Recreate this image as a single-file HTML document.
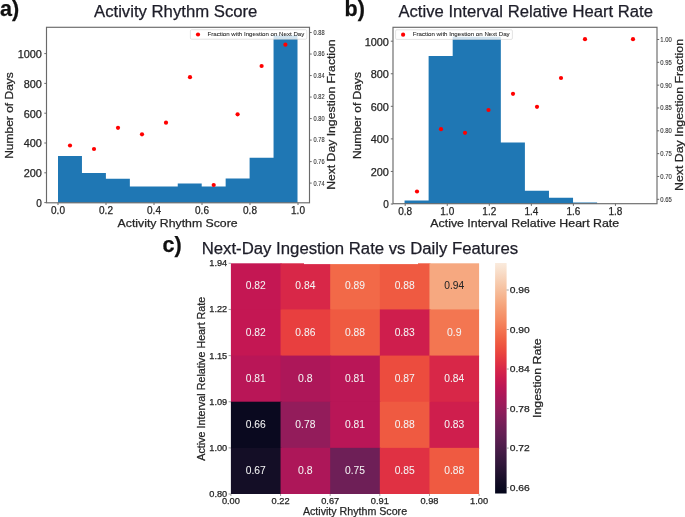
<!DOCTYPE html>
<html><head><meta charset="utf-8"><style>
html,body{margin:0;padding:0;background:#fff;width:685px;height:517px;overflow:hidden}
svg{display:block;font-family:"Liberation Sans", sans-serif;filter:blur(0.3px)}
</style></head><body>
<svg width="685" height="517" viewBox="0 0 685 517">
<rect x="0" y="0" width="685" height="517" fill="#fff"/>
<path d="M58.00,202.80 L58.00,156.00 L81.95,156.00 L81.95,173.10 L105.90,173.10 L105.90,178.70 L129.85,178.70 L129.85,186.40 L153.80,186.40 L153.80,186.40 L177.75,186.40 L177.75,183.40 L201.70,183.40 L201.70,186.60 L225.65,186.60 L225.65,178.50 L249.60,178.50 L249.60,157.80 L273.55,157.80 L273.55,35.40 L297.50,35.40 L297.50,202.80 Z" fill="#1f77b4"/>
<circle cx="70.00" cy="145.50" r="2.1" fill="#ff0000"/>
<circle cx="94.00" cy="149.00" r="2.1" fill="#ff0000"/>
<circle cx="118.00" cy="127.80" r="2.1" fill="#ff0000"/>
<circle cx="142.00" cy="134.30" r="2.1" fill="#ff0000"/>
<circle cx="166.00" cy="122.70" r="2.1" fill="#ff0000"/>
<circle cx="190.00" cy="77.20" r="2.1" fill="#ff0000"/>
<circle cx="213.70" cy="185.00" r="2.1" fill="#ff0000"/>
<circle cx="237.60" cy="114.30" r="2.1" fill="#ff0000"/>
<circle cx="261.60" cy="66.00" r="2.1" fill="#ff0000"/>
<circle cx="285.40" cy="44.70" r="2.1" fill="#ff0000"/>
<rect x="46.50" y="27.30" width="263.00" height="175.50" fill="none" stroke="#6a6a6a" stroke-width="1.15"/>
<line x1="44.30" y1="202.60" x2="46.50" y2="202.60" stroke="#6a6a6a" stroke-width="1"/>
<text x="41.90" y="206.90" font-size="10" text-anchor="end" fill="#262626" stroke="#262626" stroke-width="0.25" textLength="5.56" lengthAdjust="spacingAndGlyphs">0</text>
<line x1="44.30" y1="172.80" x2="46.50" y2="172.80" stroke="#6a6a6a" stroke-width="1"/>
<text x="41.90" y="177.10" font-size="10" text-anchor="end" fill="#262626" stroke="#262626" stroke-width="0.25" textLength="18.19" lengthAdjust="spacingAndGlyphs">200</text>
<line x1="44.30" y1="143.00" x2="46.50" y2="143.00" stroke="#6a6a6a" stroke-width="1"/>
<text x="41.90" y="147.30" font-size="10" text-anchor="end" fill="#262626" stroke="#262626" stroke-width="0.25" textLength="18.19" lengthAdjust="spacingAndGlyphs">400</text>
<line x1="44.30" y1="113.20" x2="46.50" y2="113.20" stroke="#6a6a6a" stroke-width="1"/>
<text x="41.90" y="117.50" font-size="10" text-anchor="end" fill="#262626" stroke="#262626" stroke-width="0.25" textLength="18.19" lengthAdjust="spacingAndGlyphs">600</text>
<line x1="44.30" y1="83.40" x2="46.50" y2="83.40" stroke="#6a6a6a" stroke-width="1"/>
<text x="41.90" y="87.70" font-size="10" text-anchor="end" fill="#262626" stroke="#262626" stroke-width="0.25" textLength="18.19" lengthAdjust="spacingAndGlyphs">800</text>
<line x1="44.30" y1="53.60" x2="46.50" y2="53.60" stroke="#6a6a6a" stroke-width="1"/>
<text x="41.90" y="57.90" font-size="10" text-anchor="end" fill="#262626" stroke="#262626" stroke-width="0.25" textLength="24.25" lengthAdjust="spacingAndGlyphs">1000</text>
<line x1="58.00" y1="202.80" x2="58.00" y2="205.00" stroke="#6a6a6a" stroke-width="1"/>
<text x="58.00" y="214.30" font-size="10" text-anchor="middle" fill="#262626" stroke="#262626" stroke-width="0.25">0.0</text>
<line x1="106.00" y1="202.80" x2="106.00" y2="205.00" stroke="#6a6a6a" stroke-width="1"/>
<text x="106.00" y="214.30" font-size="10" text-anchor="middle" fill="#262626" stroke="#262626" stroke-width="0.25">0.2</text>
<line x1="154.00" y1="202.80" x2="154.00" y2="205.00" stroke="#6a6a6a" stroke-width="1"/>
<text x="154.00" y="214.30" font-size="10" text-anchor="middle" fill="#262626" stroke="#262626" stroke-width="0.25">0.4</text>
<line x1="202.00" y1="202.80" x2="202.00" y2="205.00" stroke="#6a6a6a" stroke-width="1"/>
<text x="202.00" y="214.30" font-size="10" text-anchor="middle" fill="#262626" stroke="#262626" stroke-width="0.25">0.6</text>
<line x1="250.00" y1="202.80" x2="250.00" y2="205.00" stroke="#6a6a6a" stroke-width="1"/>
<text x="250.00" y="214.30" font-size="10" text-anchor="middle" fill="#262626" stroke="#262626" stroke-width="0.25">0.8</text>
<line x1="298.00" y1="202.80" x2="298.00" y2="205.00" stroke="#6a6a6a" stroke-width="1"/>
<text x="298.00" y="214.30" font-size="10" text-anchor="middle" fill="#262626" stroke="#262626" stroke-width="0.25">1.0</text>
<line x1="309.50" y1="183.10" x2="311.70" y2="183.10" stroke="#6a6a6a" stroke-width="1"/>
<text x="313.60" y="185.50" font-size="6.6" text-anchor="start" fill="#333" stroke="#333" stroke-width="0.1" textLength="11.00" lengthAdjust="spacingAndGlyphs">0.74</text>
<line x1="309.50" y1="161.59" x2="311.70" y2="161.59" stroke="#6a6a6a" stroke-width="1"/>
<text x="313.60" y="163.99" font-size="6.6" text-anchor="start" fill="#333" stroke="#333" stroke-width="0.1" textLength="11.00" lengthAdjust="spacingAndGlyphs">0.76</text>
<line x1="309.50" y1="140.08" x2="311.70" y2="140.08" stroke="#6a6a6a" stroke-width="1"/>
<text x="313.60" y="142.48" font-size="6.6" text-anchor="start" fill="#333" stroke="#333" stroke-width="0.1" textLength="11.00" lengthAdjust="spacingAndGlyphs">0.78</text>
<line x1="309.50" y1="118.57" x2="311.70" y2="118.57" stroke="#6a6a6a" stroke-width="1"/>
<text x="313.60" y="120.97" font-size="6.6" text-anchor="start" fill="#333" stroke="#333" stroke-width="0.1" textLength="11.00" lengthAdjust="spacingAndGlyphs">0.80</text>
<line x1="309.50" y1="97.06" x2="311.70" y2="97.06" stroke="#6a6a6a" stroke-width="1"/>
<text x="313.60" y="99.46" font-size="6.6" text-anchor="start" fill="#333" stroke="#333" stroke-width="0.1" textLength="11.00" lengthAdjust="spacingAndGlyphs">0.82</text>
<line x1="309.50" y1="75.55" x2="311.70" y2="75.55" stroke="#6a6a6a" stroke-width="1"/>
<text x="313.60" y="77.95" font-size="6.6" text-anchor="start" fill="#333" stroke="#333" stroke-width="0.1" textLength="11.00" lengthAdjust="spacingAndGlyphs">0.84</text>
<line x1="309.50" y1="54.04" x2="311.70" y2="54.04" stroke="#6a6a6a" stroke-width="1"/>
<text x="313.60" y="56.44" font-size="6.6" text-anchor="start" fill="#333" stroke="#333" stroke-width="0.1" textLength="11.00" lengthAdjust="spacingAndGlyphs">0.86</text>
<line x1="309.50" y1="32.53" x2="311.70" y2="32.53" stroke="#6a6a6a" stroke-width="1"/>
<text x="313.60" y="34.93" font-size="6.6" text-anchor="start" fill="#333" stroke="#333" stroke-width="0.1" textLength="11.00" lengthAdjust="spacingAndGlyphs">0.88</text>
<rect x="190.4" y="29.7" width="116.4" height="9.5" rx="1.2" fill="#ffffff" fill-opacity="0.8" stroke="#d0d0d0" stroke-width="0.6"/>
<circle cx="198.00" cy="34.50" r="2.1" fill="#ff0000"/>
<text x="207.50" y="35.70" font-size="5.9" text-anchor="start" fill="#2a2a2a" stroke="#2a2a2a" stroke-width="0.08" textLength="96.80" lengthAdjust="spacingAndGlyphs">Fraction with Ingestion on Next Day</text>
<text x="177.60" y="226.60" font-size="11" text-anchor="middle" fill="#262626" stroke="#262626" stroke-width="0.25" textLength="120.00" lengthAdjust="spacingAndGlyphs">Activity Rhythm Score</text>
<text transform="translate(13.10,115.50) rotate(-90)" x="0" y="0" font-size="11" text-anchor="middle" fill="#262626" stroke="#262626" stroke-width="0.25" textLength="86.70" lengthAdjust="spacingAndGlyphs">Number of Days</text>
<text transform="translate(335.00,114.60) rotate(-90)" x="0" y="0" font-size="11" text-anchor="middle" fill="#262626" stroke="#262626" stroke-width="0.25" textLength="150.50" lengthAdjust="spacingAndGlyphs">Next Day Ingestion Fraction</text>
<text x="94.00" y="16.80" font-size="16" text-anchor="start" fill="#1d1d28" stroke="#1d1d28" stroke-width="0.25" textLength="163.40" lengthAdjust="spacingAndGlyphs">Activity Rhythm Score</text>
<text x="0.00" y="16.00" font-size="21.5" text-anchor="start" fill="#111" font-weight="bold" stroke="#111" stroke-width="0.25">a)</text>
<path d="M404.55,203.70 L404.55,200.50 L428.62,200.50 L428.62,56.10 L452.69,56.10 L452.69,36.70 L476.76,36.70 L476.76,36.70 L500.83,36.70 L500.83,142.50 L524.90,142.50 L524.90,190.70 L548.97,190.70 L548.97,197.80 L573.04,197.80 L573.04,202.60 L597.11,202.60 L597.11,203.70 L621.18,203.70 L621.18,203.70 L645.25,203.70 L645.25,203.70 Z" fill="#1f77b4"/>
<circle cx="417.00" cy="191.50" r="2.1" fill="#ff0000"/>
<circle cx="441.00" cy="129.20" r="2.1" fill="#ff0000"/>
<circle cx="465.00" cy="132.80" r="2.1" fill="#ff0000"/>
<circle cx="488.50" cy="110.00" r="2.1" fill="#ff0000"/>
<circle cx="513.00" cy="93.80" r="2.1" fill="#ff0000"/>
<circle cx="537.00" cy="106.80" r="2.1" fill="#ff0000"/>
<circle cx="561.00" cy="78.00" r="2.1" fill="#ff0000"/>
<circle cx="585.00" cy="39.20" r="2.1" fill="#ff0000"/>
<circle cx="633.00" cy="39.20" r="2.1" fill="#ff0000"/>
<rect x="393.00" y="27.30" width="264.00" height="176.40" fill="none" stroke="#6a6a6a" stroke-width="1.15"/>
<line x1="390.80" y1="204.00" x2="393.00" y2="204.00" stroke="#6a6a6a" stroke-width="1"/>
<text x="388.90" y="208.30" font-size="10" text-anchor="end" fill="#262626" stroke="#262626" stroke-width="0.25" textLength="5.56" lengthAdjust="spacingAndGlyphs">0</text>
<line x1="390.80" y1="171.44" x2="393.00" y2="171.44" stroke="#6a6a6a" stroke-width="1"/>
<text x="388.90" y="175.74" font-size="10" text-anchor="end" fill="#262626" stroke="#262626" stroke-width="0.25" textLength="18.19" lengthAdjust="spacingAndGlyphs">200</text>
<line x1="390.80" y1="138.88" x2="393.00" y2="138.88" stroke="#6a6a6a" stroke-width="1"/>
<text x="388.90" y="143.18" font-size="10" text-anchor="end" fill="#262626" stroke="#262626" stroke-width="0.25" textLength="18.19" lengthAdjust="spacingAndGlyphs">400</text>
<line x1="390.80" y1="106.32" x2="393.00" y2="106.32" stroke="#6a6a6a" stroke-width="1"/>
<text x="388.90" y="110.62" font-size="10" text-anchor="end" fill="#262626" stroke="#262626" stroke-width="0.25" textLength="18.19" lengthAdjust="spacingAndGlyphs">600</text>
<line x1="390.80" y1="73.76" x2="393.00" y2="73.76" stroke="#6a6a6a" stroke-width="1"/>
<text x="388.90" y="78.06" font-size="10" text-anchor="end" fill="#262626" stroke="#262626" stroke-width="0.25" textLength="18.19" lengthAdjust="spacingAndGlyphs">800</text>
<line x1="390.80" y1="41.20" x2="393.00" y2="41.20" stroke="#6a6a6a" stroke-width="1"/>
<text x="388.90" y="45.50" font-size="10" text-anchor="end" fill="#262626" stroke="#262626" stroke-width="0.25" textLength="24.25" lengthAdjust="spacingAndGlyphs">1000</text>
<line x1="405.20" y1="203.70" x2="405.20" y2="205.90" stroke="#6a6a6a" stroke-width="1"/>
<text x="405.20" y="214.60" font-size="10" text-anchor="middle" fill="#262626" stroke="#262626" stroke-width="0.25">0.8</text>
<line x1="447.25" y1="203.70" x2="447.25" y2="205.90" stroke="#6a6a6a" stroke-width="1"/>
<text x="447.25" y="214.60" font-size="10" text-anchor="middle" fill="#262626" stroke="#262626" stroke-width="0.25">1.0</text>
<line x1="489.30" y1="203.70" x2="489.30" y2="205.90" stroke="#6a6a6a" stroke-width="1"/>
<text x="489.30" y="214.60" font-size="10" text-anchor="middle" fill="#262626" stroke="#262626" stroke-width="0.25">1.2</text>
<line x1="531.35" y1="203.70" x2="531.35" y2="205.90" stroke="#6a6a6a" stroke-width="1"/>
<text x="531.35" y="214.60" font-size="10" text-anchor="middle" fill="#262626" stroke="#262626" stroke-width="0.25">1.4</text>
<line x1="573.40" y1="203.70" x2="573.40" y2="205.90" stroke="#6a6a6a" stroke-width="1"/>
<text x="573.40" y="214.60" font-size="10" text-anchor="middle" fill="#262626" stroke="#262626" stroke-width="0.25">1.6</text>
<line x1="615.45" y1="203.70" x2="615.45" y2="205.90" stroke="#6a6a6a" stroke-width="1"/>
<text x="615.45" y="214.60" font-size="10" text-anchor="middle" fill="#262626" stroke="#262626" stroke-width="0.25">1.8</text>
<line x1="657.00" y1="199.30" x2="659.20" y2="199.30" stroke="#6a6a6a" stroke-width="1"/>
<text x="660.30" y="201.70" font-size="6.6" text-anchor="start" fill="#333" stroke="#333" stroke-width="0.1" textLength="11.50" lengthAdjust="spacingAndGlyphs">0.65</text>
<line x1="657.00" y1="176.47" x2="659.20" y2="176.47" stroke="#6a6a6a" stroke-width="1"/>
<text x="660.30" y="178.87" font-size="6.6" text-anchor="start" fill="#333" stroke="#333" stroke-width="0.1" textLength="11.50" lengthAdjust="spacingAndGlyphs">0.70</text>
<line x1="657.00" y1="153.64" x2="659.20" y2="153.64" stroke="#6a6a6a" stroke-width="1"/>
<text x="660.30" y="156.04" font-size="6.6" text-anchor="start" fill="#333" stroke="#333" stroke-width="0.1" textLength="11.50" lengthAdjust="spacingAndGlyphs">0.75</text>
<line x1="657.00" y1="130.81" x2="659.20" y2="130.81" stroke="#6a6a6a" stroke-width="1"/>
<text x="660.30" y="133.21" font-size="6.6" text-anchor="start" fill="#333" stroke="#333" stroke-width="0.1" textLength="11.50" lengthAdjust="spacingAndGlyphs">0.80</text>
<line x1="657.00" y1="107.98" x2="659.20" y2="107.98" stroke="#6a6a6a" stroke-width="1"/>
<text x="660.30" y="110.38" font-size="6.6" text-anchor="start" fill="#333" stroke="#333" stroke-width="0.1" textLength="11.50" lengthAdjust="spacingAndGlyphs">0.85</text>
<line x1="657.00" y1="85.15" x2="659.20" y2="85.15" stroke="#6a6a6a" stroke-width="1"/>
<text x="660.30" y="87.55" font-size="6.6" text-anchor="start" fill="#333" stroke="#333" stroke-width="0.1" textLength="11.50" lengthAdjust="spacingAndGlyphs">0.90</text>
<line x1="657.00" y1="62.32" x2="659.20" y2="62.32" stroke="#6a6a6a" stroke-width="1"/>
<text x="660.30" y="64.72" font-size="6.6" text-anchor="start" fill="#333" stroke="#333" stroke-width="0.1" textLength="11.50" lengthAdjust="spacingAndGlyphs">0.95</text>
<line x1="657.00" y1="39.49" x2="659.20" y2="39.49" stroke="#6a6a6a" stroke-width="1"/>
<text x="660.30" y="41.89" font-size="6.6" text-anchor="start" fill="#333" stroke="#333" stroke-width="0.1" textLength="11.50" lengthAdjust="spacingAndGlyphs">1.00</text>
<rect x="395.6" y="29.8" width="116.8" height="9.6" rx="1.2" fill="#ffffff" fill-opacity="0.8" stroke="#d0d0d0" stroke-width="0.6"/>
<circle cx="403.10" cy="34.70" r="2.1" fill="#ff0000"/>
<text x="412.70" y="35.70" font-size="5.9" text-anchor="start" fill="#2a2a2a" stroke="#2a2a2a" stroke-width="0.08" textLength="97.00" lengthAdjust="spacingAndGlyphs">Fraction with Ingestion on Next Day</text>
<text x="524.70" y="227.40" font-size="11" text-anchor="middle" fill="#262626" stroke="#262626" stroke-width="0.25" textLength="188.80" lengthAdjust="spacingAndGlyphs">Active Interval Relative Heart Rate</text>
<text transform="translate(360.60,115.50) rotate(-90)" x="0" y="0" font-size="11" text-anchor="middle" fill="#262626" stroke="#262626" stroke-width="0.25" textLength="87.20" lengthAdjust="spacingAndGlyphs">Number of Days</text>
<text transform="translate(683.00,115.00) rotate(-90)" x="0" y="0" font-size="11" text-anchor="middle" fill="#262626" stroke="#262626" stroke-width="0.25" textLength="152.00" lengthAdjust="spacingAndGlyphs">Next Day Ingestion Fraction</text>
<text x="398.40" y="17.20" font-size="16" text-anchor="start" fill="#1d1d28" stroke="#1d1d28" stroke-width="0.25" textLength="254.60" lengthAdjust="spacingAndGlyphs">Active Interval Relative Heart Rate</text>
<text x="344.50" y="15.80" font-size="21.5" text-anchor="start" fill="#111" font-weight="bold" stroke="#111" stroke-width="0.25">b)</text>
<rect x="230.90" y="263.30" width="50.64" height="47.14" fill="#c41753"/>
<text x="255.72" y="289.42" font-size="10.4" text-anchor="middle" fill="#f4f4f4" stroke="#f4f4f4" stroke-width="0.04" textLength="20.00" lengthAdjust="spacingAndGlyphs">0.82</text>
<rect x="280.54" y="263.30" width="50.64" height="47.14" fill="#d82748"/>
<text x="305.36" y="289.42" font-size="10.4" text-anchor="middle" fill="#f4f4f4" stroke="#f4f4f4" stroke-width="0.04" textLength="20.00" lengthAdjust="spacingAndGlyphs">0.84</text>
<rect x="330.18" y="263.30" width="50.64" height="47.14" fill="#f26948"/>
<text x="355.00" y="289.42" font-size="10.4" text-anchor="middle" fill="#f4f4f4" stroke="#f4f4f4" stroke-width="0.04" textLength="20.00" lengthAdjust="spacingAndGlyphs">0.89</text>
<rect x="379.82" y="263.30" width="50.64" height="47.14" fill="#ef5a41"/>
<text x="404.64" y="289.42" font-size="10.4" text-anchor="middle" fill="#f4f4f4" stroke="#f4f4f4" stroke-width="0.04" textLength="20.00" lengthAdjust="spacingAndGlyphs">0.88</text>
<rect x="429.46" y="263.30" width="49.64" height="47.14" fill="#f6a880"/>
<text x="454.28" y="289.42" font-size="10.4" text-anchor="middle" fill="#262626" stroke="#262626" stroke-width="0.04" textLength="20.00" lengthAdjust="spacingAndGlyphs">0.94</text>
<rect x="230.90" y="309.44" width="50.64" height="47.14" fill="#c41753"/>
<text x="255.72" y="335.56" font-size="10.4" text-anchor="middle" fill="#f4f4f4" stroke="#f4f4f4" stroke-width="0.04" textLength="20.00" lengthAdjust="spacingAndGlyphs">0.82</text>
<rect x="280.54" y="309.44" width="50.64" height="47.14" fill="#e83f3f"/>
<text x="305.36" y="335.56" font-size="10.4" text-anchor="middle" fill="#f4f4f4" stroke="#f4f4f4" stroke-width="0.04" textLength="20.00" lengthAdjust="spacingAndGlyphs">0.86</text>
<rect x="330.18" y="309.44" width="50.64" height="47.14" fill="#ef5a41"/>
<text x="355.00" y="335.56" font-size="10.4" text-anchor="middle" fill="#f4f4f4" stroke="#f4f4f4" stroke-width="0.04" textLength="20.00" lengthAdjust="spacingAndGlyphs">0.88</text>
<rect x="379.82" y="309.44" width="50.64" height="47.14" fill="#cf1e4d"/>
<text x="404.64" y="335.56" font-size="10.4" text-anchor="middle" fill="#f4f4f4" stroke="#f4f4f4" stroke-width="0.04" textLength="20.00" lengthAdjust="spacingAndGlyphs">0.83</text>
<rect x="429.46" y="309.44" width="49.64" height="47.14" fill="#f37651"/>
<text x="454.28" y="335.56" font-size="10.4" text-anchor="middle" fill="#f4f4f4" stroke="#f4f4f4" stroke-width="0.04" textLength="14.60" lengthAdjust="spacingAndGlyphs">0.9</text>
<rect x="230.90" y="355.58" width="50.64" height="47.14" fill="#b91657"/>
<text x="255.72" y="381.70" font-size="10.4" text-anchor="middle" fill="#f4f4f4" stroke="#f4f4f4" stroke-width="0.04" textLength="20.00" lengthAdjust="spacingAndGlyphs">0.81</text>
<rect x="280.54" y="355.58" width="50.64" height="47.14" fill="#ad1759"/>
<text x="305.36" y="381.70" font-size="10.4" text-anchor="middle" fill="#f4f4f4" stroke="#f4f4f4" stroke-width="0.04" textLength="14.60" lengthAdjust="spacingAndGlyphs">0.8</text>
<rect x="330.18" y="355.58" width="50.64" height="47.14" fill="#b91657"/>
<text x="355.00" y="381.70" font-size="10.4" text-anchor="middle" fill="#f4f4f4" stroke="#f4f4f4" stroke-width="0.04" textLength="20.00" lengthAdjust="spacingAndGlyphs">0.81</text>
<rect x="379.82" y="355.58" width="50.64" height="47.14" fill="#ec4c3e"/>
<text x="404.64" y="381.70" font-size="10.4" text-anchor="middle" fill="#f4f4f4" stroke="#f4f4f4" stroke-width="0.04" textLength="20.00" lengthAdjust="spacingAndGlyphs">0.87</text>
<rect x="429.46" y="355.58" width="49.64" height="47.14" fill="#d82748"/>
<text x="454.28" y="381.70" font-size="10.4" text-anchor="middle" fill="#f4f4f4" stroke="#f4f4f4" stroke-width="0.04" textLength="20.00" lengthAdjust="spacingAndGlyphs">0.84</text>
<rect x="230.90" y="401.72" width="50.64" height="47.14" fill="#0a091f"/>
<text x="255.72" y="427.84" font-size="10.4" text-anchor="middle" fill="#f4f4f4" stroke="#f4f4f4" stroke-width="0.04" textLength="20.00" lengthAdjust="spacingAndGlyphs">0.66</text>
<rect x="280.54" y="401.72" width="50.64" height="47.14" fill="#931c5b"/>
<text x="305.36" y="427.84" font-size="10.4" text-anchor="middle" fill="#f4f4f4" stroke="#f4f4f4" stroke-width="0.04" textLength="20.00" lengthAdjust="spacingAndGlyphs">0.78</text>
<rect x="330.18" y="401.72" width="50.64" height="47.14" fill="#b91657"/>
<text x="355.00" y="427.84" font-size="10.4" text-anchor="middle" fill="#f4f4f4" stroke="#f4f4f4" stroke-width="0.04" textLength="20.00" lengthAdjust="spacingAndGlyphs">0.81</text>
<rect x="379.82" y="401.72" width="50.64" height="47.14" fill="#ef5a41"/>
<text x="404.64" y="427.84" font-size="10.4" text-anchor="middle" fill="#f4f4f4" stroke="#f4f4f4" stroke-width="0.04" textLength="20.00" lengthAdjust="spacingAndGlyphs">0.88</text>
<rect x="429.46" y="401.72" width="49.64" height="47.14" fill="#cf1e4d"/>
<text x="454.28" y="427.84" font-size="10.4" text-anchor="middle" fill="#f4f4f4" stroke="#f4f4f4" stroke-width="0.04" textLength="20.00" lengthAdjust="spacingAndGlyphs">0.83</text>
<rect x="230.90" y="447.86" width="50.64" height="46.14" fill="#140e26"/>
<text x="255.72" y="473.98" font-size="10.4" text-anchor="middle" fill="#f4f4f4" stroke="#f4f4f4" stroke-width="0.04" textLength="20.00" lengthAdjust="spacingAndGlyphs">0.67</text>
<rect x="280.54" y="447.86" width="50.64" height="46.14" fill="#ad1759"/>
<text x="305.36" y="473.98" font-size="10.4" text-anchor="middle" fill="#f4f4f4" stroke="#f4f4f4" stroke-width="0.04" textLength="14.60" lengthAdjust="spacingAndGlyphs">0.8</text>
<rect x="330.18" y="447.86" width="50.64" height="46.14" fill="#6e1f57"/>
<text x="355.00" y="473.98" font-size="10.4" text-anchor="middle" fill="#f4f4f4" stroke="#f4f4f4" stroke-width="0.04" textLength="20.00" lengthAdjust="spacingAndGlyphs">0.75</text>
<rect x="379.82" y="447.86" width="50.64" height="46.14" fill="#e03143"/>
<text x="404.64" y="473.98" font-size="10.4" text-anchor="middle" fill="#f4f4f4" stroke="#f4f4f4" stroke-width="0.04" textLength="20.00" lengthAdjust="spacingAndGlyphs">0.85</text>
<rect x="429.46" y="447.86" width="49.64" height="46.14" fill="#ef5a41"/>
<text x="454.28" y="473.98" font-size="10.4" text-anchor="middle" fill="#f4f4f4" stroke="#f4f4f4" stroke-width="0.04" textLength="20.00" lengthAdjust="spacingAndGlyphs">0.88</text>
<rect x="304.00" y="262.60" width="114.00" height="1.50" fill="#ffffff"/>
<line x1="228.60" y1="263.30" x2="230.90" y2="263.30" stroke="#888" stroke-width="0.8"/>
<text x="227.20" y="266.30" font-size="8.5" text-anchor="end" fill="#262626" stroke="#262626" stroke-width="0.25" textLength="17.90" lengthAdjust="spacingAndGlyphs">1.94</text>
<line x1="228.60" y1="309.44" x2="230.90" y2="309.44" stroke="#888" stroke-width="0.8"/>
<text x="227.20" y="312.44" font-size="8.5" text-anchor="end" fill="#262626" stroke="#262626" stroke-width="0.25" textLength="17.90" lengthAdjust="spacingAndGlyphs">1.22</text>
<line x1="228.60" y1="355.58" x2="230.90" y2="355.58" stroke="#888" stroke-width="0.8"/>
<text x="227.20" y="358.58" font-size="8.5" text-anchor="end" fill="#262626" stroke="#262626" stroke-width="0.25" textLength="17.90" lengthAdjust="spacingAndGlyphs">1.15</text>
<line x1="228.60" y1="401.72" x2="230.90" y2="401.72" stroke="#888" stroke-width="0.8"/>
<text x="227.20" y="404.72" font-size="8.5" text-anchor="end" fill="#262626" stroke="#262626" stroke-width="0.25" textLength="17.90" lengthAdjust="spacingAndGlyphs">1.09</text>
<line x1="228.60" y1="447.86" x2="230.90" y2="447.86" stroke="#888" stroke-width="0.8"/>
<text x="227.20" y="450.86" font-size="8.5" text-anchor="end" fill="#262626" stroke="#262626" stroke-width="0.25" textLength="17.90" lengthAdjust="spacingAndGlyphs">1.00</text>
<line x1="228.60" y1="494.00" x2="230.90" y2="494.00" stroke="#888" stroke-width="0.8"/>
<text x="227.20" y="497.00" font-size="8.5" text-anchor="end" fill="#262626" stroke="#262626" stroke-width="0.25" textLength="17.90" lengthAdjust="spacingAndGlyphs">0.80</text>
<line x1="230.90" y1="494.00" x2="230.90" y2="496.00" stroke="#888" stroke-width="0.8"/>
<text x="230.90" y="504.00" font-size="8.5" text-anchor="middle" fill="#262626" stroke="#262626" stroke-width="0.25" textLength="18.00" lengthAdjust="spacingAndGlyphs">0.00</text>
<line x1="280.54" y1="494.00" x2="280.54" y2="496.00" stroke="#888" stroke-width="0.8"/>
<text x="280.54" y="504.00" font-size="8.5" text-anchor="middle" fill="#262626" stroke="#262626" stroke-width="0.25" textLength="18.00" lengthAdjust="spacingAndGlyphs">0.22</text>
<line x1="330.18" y1="494.00" x2="330.18" y2="496.00" stroke="#888" stroke-width="0.8"/>
<text x="330.18" y="504.00" font-size="8.5" text-anchor="middle" fill="#262626" stroke="#262626" stroke-width="0.25" textLength="18.00" lengthAdjust="spacingAndGlyphs">0.67</text>
<line x1="379.82" y1="494.00" x2="379.82" y2="496.00" stroke="#888" stroke-width="0.8"/>
<text x="379.82" y="504.00" font-size="8.5" text-anchor="middle" fill="#262626" stroke="#262626" stroke-width="0.25" textLength="18.00" lengthAdjust="spacingAndGlyphs">0.91</text>
<line x1="429.46" y1="494.00" x2="429.46" y2="496.00" stroke="#888" stroke-width="0.8"/>
<text x="429.46" y="504.00" font-size="8.5" text-anchor="middle" fill="#262626" stroke="#262626" stroke-width="0.25" textLength="18.00" lengthAdjust="spacingAndGlyphs">0.98</text>
<line x1="479.10" y1="494.00" x2="479.10" y2="496.00" stroke="#888" stroke-width="0.8"/>
<text x="479.10" y="504.00" font-size="8.5" text-anchor="middle" fill="#262626" stroke="#262626" stroke-width="0.25" textLength="18.00" lengthAdjust="spacingAndGlyphs">1.00</text>
<text x="355.00" y="514.60" font-size="11" text-anchor="middle" fill="#262626" stroke="#262626" stroke-width="0.25" textLength="104.20" lengthAdjust="spacingAndGlyphs">Activity Rhythm Score</text>
<text transform="translate(205.20,378.70) rotate(-90)" x="0" y="0" font-size="11" text-anchor="middle" fill="#262626" stroke="#262626" stroke-width="0.25" textLength="164.00" lengthAdjust="spacingAndGlyphs">Active Interval Relative Heart Rate</text>
<defs><linearGradient id="rk" x1="0" y1="1" x2="0" y2="0">
<stop offset="0.0000" stop-color="#03051a"/>
<stop offset="0.0417" stop-color="#100b23"/>
<stop offset="0.0833" stop-color="#20122e"/>
<stop offset="0.1250" stop-color="#30173a"/>
<stop offset="0.1667" stop-color="#3f1b43"/>
<stop offset="0.2083" stop-color="#501d4c"/>
<stop offset="0.2500" stop-color="#611f53"/>
<stop offset="0.2917" stop-color="#711f57"/>
<stop offset="0.3333" stop-color="#841e5a"/>
<stop offset="0.3750" stop-color="#971c5b"/>
<stop offset="0.4167" stop-color="#a8185a"/>
<stop offset="0.4583" stop-color="#ba1656"/>
<stop offset="0.5000" stop-color="#cb1b4f"/>
<stop offset="0.5417" stop-color="#d82748"/>
<stop offset="0.5833" stop-color="#e43841"/>
<stop offset="0.6250" stop-color="#ec4c3e"/>
<stop offset="0.6667" stop-color="#f06043"/>
<stop offset="0.7083" stop-color="#f37450"/>
<stop offset="0.7500" stop-color="#f58860"/>
<stop offset="0.7917" stop-color="#f59970"/>
<stop offset="0.8333" stop-color="#f6ab83"/>
<stop offset="0.8750" stop-color="#f6bc99"/>
<stop offset="0.9167" stop-color="#f7ccaf"/>
<stop offset="0.9583" stop-color="#f8dcc7"/>
<stop offset="1.0000" stop-color="#faebdd"/>
</linearGradient></defs>
<rect x="495.10" y="263.00" width="11.50" height="230.50" fill="url(#rk)"/>
<line x1="506.60" y1="487.60" x2="508.80" y2="487.60" stroke="#888" stroke-width="0.8"/>
<text x="509.80" y="490.80" font-size="9" text-anchor="start" fill="#262626" stroke="#262626" stroke-width="0.25" textLength="20.00" lengthAdjust="spacingAndGlyphs">0.66</text>
<line x1="506.60" y1="448.08" x2="508.80" y2="448.08" stroke="#888" stroke-width="0.8"/>
<text x="509.80" y="451.28" font-size="9" text-anchor="start" fill="#262626" stroke="#262626" stroke-width="0.25" textLength="20.00" lengthAdjust="spacingAndGlyphs">0.72</text>
<line x1="506.60" y1="408.56" x2="508.80" y2="408.56" stroke="#888" stroke-width="0.8"/>
<text x="509.80" y="411.76" font-size="9" text-anchor="start" fill="#262626" stroke="#262626" stroke-width="0.25" textLength="20.00" lengthAdjust="spacingAndGlyphs">0.78</text>
<line x1="506.60" y1="369.04" x2="508.80" y2="369.04" stroke="#888" stroke-width="0.8"/>
<text x="509.80" y="372.24" font-size="9" text-anchor="start" fill="#262626" stroke="#262626" stroke-width="0.25" textLength="20.00" lengthAdjust="spacingAndGlyphs">0.84</text>
<line x1="506.60" y1="329.52" x2="508.80" y2="329.52" stroke="#888" stroke-width="0.8"/>
<text x="509.80" y="332.72" font-size="9" text-anchor="start" fill="#262626" stroke="#262626" stroke-width="0.25" textLength="20.00" lengthAdjust="spacingAndGlyphs">0.90</text>
<line x1="506.60" y1="290.00" x2="508.80" y2="290.00" stroke="#888" stroke-width="0.8"/>
<text x="509.80" y="293.20" font-size="9" text-anchor="start" fill="#262626" stroke="#262626" stroke-width="0.25" textLength="20.00" lengthAdjust="spacingAndGlyphs">0.96</text>
<text transform="translate(541.40,378.20) rotate(-90)" x="0" y="0" font-size="11" text-anchor="middle" fill="#262626" stroke="#262626" stroke-width="0.25" textLength="79.50" lengthAdjust="spacingAndGlyphs">Ingestion Rate</text>
<text x="201.70" y="253.60" font-size="16" text-anchor="start" fill="#1d1d28" stroke="#1d1d28" stroke-width="0.25" textLength="316.40" lengthAdjust="spacingAndGlyphs">Next-Day Ingestion Rate vs Daily Features</text>
<text x="162.60" y="251.70" font-size="21.5" text-anchor="start" fill="#111" font-weight="bold" stroke="#111" stroke-width="0.25">c)</text>
</svg>
</body></html>
